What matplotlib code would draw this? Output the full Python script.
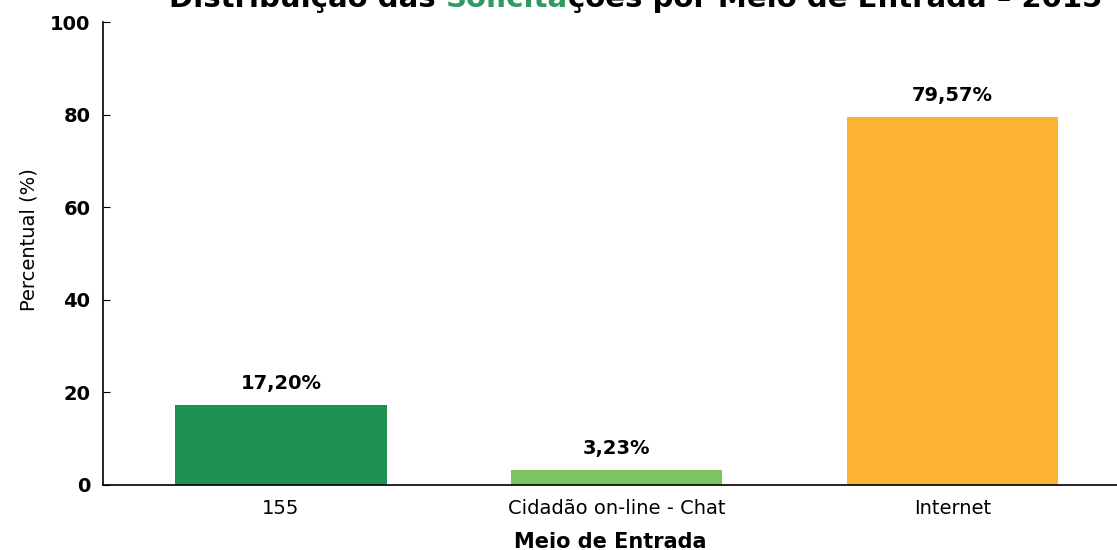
import matplotlib
matplotlib.use("Agg")
import matplotlib.pyplot as plt

categories = ["155", "Cidadão on-line - Chat", "Internet"]
values = [17.20, 3.23, 79.57]
labels = ["17,20%", "3,23%", "79,57%"]
colors = ["#1f9150", "#7dc35f", "#fbb331"]
yticks = [0, 20, 40, 60, 80, 100]

title_parts = [("Distribuição das ", "black"), ("Solicita", "#2e9a5e"),
               ("ções por Meio de Entrada – 2015", "black")]

plt.rcParams['font.family'] = ['DejaVu Sans']

fig = plt.figure(figsize=(11.17, 5.5), dpi=100)
ax = fig.add_axes([103/1117, 1-485/550, 1-103/1117, (485-22)/550])

x = list(range(len(categories)))
ax.bar(x, values, width=0.63, color=colors, zorder=2)
for xi, v, lab in zip(x, values, labels):
    ax.text(xi, v + 2.6, lab, ha='center', va='bottom', fontsize=14, fontweight='bold')

ax.set_xlim(-0.53, 2.49)
ax.set_ylim(0, 100)
ax.set_yticks(yticks)
ax.set_xticks(x)
ax.set_xticklabels(categories, fontsize=14)
ax.tick_params(axis='x', length=0, pad=10)
ax.tick_params(axis='y', direction='in', length=5, labelsize=14, pad=9)
for t in ax.get_yticklabels():
    t.set_fontweight('bold')
ax.spines['top'].set_visible(False)
ax.spines['right'].set_visible(False)
ax.spines['left'].set_color('black')
ax.spines['bottom'].set_color('black')
ax.spines['left'].set_linewidth(1.2)
ax.spines['bottom'].set_linewidth(1.2)
ax.set_ylabel("Percentual (%)", fontsize=14)
ax.yaxis.set_label_coords(-0.064, 0.53)
ax.set_xlabel("Meio de Entrada", fontsize=15, fontweight='bold', labelpad=10)

# title, partially clipped at top as in reference
fig.canvas.draw()
renderer = fig.canvas.get_renderer()
texts = []
for s, c in title_parts:
    t = fig.text(0, 1 - 7/550, s, color=c, fontsize=21, fontweight='bold',
                 ha='left', va='baseline')
    texts.append(t)
fig.canvas.draw()
widths = [t.get_window_extent(renderer).width for t in texts]
total = sum(widths)
cur = 636 - total / 2
for t, w in zip(texts, widths):
    t.set_x(cur / 1117)
    cur += w

fig.savefig("out.png", dpi=100)
